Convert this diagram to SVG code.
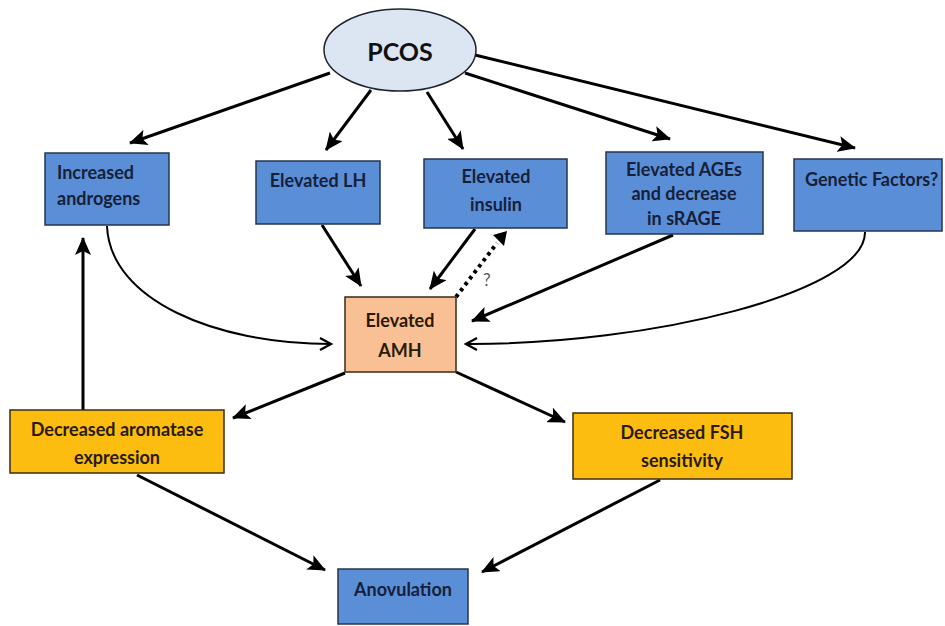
<svg xmlns="http://www.w3.org/2000/svg" width="945" height="626" viewBox="0 0 945 626">
<defs>
<marker id="ah" markerUnits="userSpaceOnUse" markerWidth="18" markerHeight="16" viewBox="0 0 18 16" refX="17" refY="8" orient="auto">
<path d="M0,0 L18,8 L0,16 L4,8 Z" fill="#000"/>
</marker>
<marker id="oh" markerUnits="userSpaceOnUse" markerWidth="16" markerHeight="16" viewBox="0 0 16 16" refX="14" refY="8" orient="auto">
<path d="M3,2 L14,8 L3,14" fill="none" stroke="#000" stroke-width="2.2"/>
</marker>
<style>
.blue{fill:#5a8fd8;stroke:#24344f;stroke-width:1.5}
.org{fill:#f9bf95;stroke:#3a2a1a;stroke-width:1.5}
.yel{fill:#fdbd10;stroke:#3a2e10;stroke-width:1.5}
.t{font-family:Lato,"Open Sans","Liberation Sans",sans-serif;font-weight:bold;font-size:18px;fill:#172038}
.tk{font-family:Lato,"Open Sans","Liberation Sans",sans-serif;font-weight:bold;font-size:18px;fill:#2a1a0a}
.c{text-anchor:middle}
.e{fill:none;stroke:#000;stroke-width:3;marker-end:url(#ah)}
.cv{fill:none;stroke:#000;stroke-width:2;marker-end:url(#oh)}
</style>
</defs>
<rect width="945" height="626" fill="#fff"/>
<g id="connectors">
<line class="e" x1="330" y1="73" x2="130" y2="143"/>
<line class="e" x1="371" y1="90" x2="326" y2="150"/>
<line class="e" x1="427" y1="92" x2="463" y2="149"/>
<line class="e" x1="465" y1="73" x2="670" y2="139"/>
<line class="e" x1="475" y1="55" x2="855" y2="148"/>
<line class="e" x1="322" y1="225" x2="361" y2="286"/>
<line class="e" x1="475" y1="229" x2="430" y2="289"/>
<line fill="none" stroke="#000" stroke-width="4" stroke-dasharray="3.5,4" x1="456" y1="297" x2="497" y2="243"/>
<path d="M493,235 L507,231 L504,246 Z" fill="#000"/>
<text x="483" y="286" font-family="Lato,'Open Sans','Liberation Sans',sans-serif" font-size="17" fill="#555">?</text>
<line class="e" x1="673" y1="235" x2="472" y2="321"/>
<path class="cv" d="M107,226 C110,300 215,344 331,344"/>
<path class="cv" d="M865,232 C866,292 650,345 466,344"/>
<line class="e" x1="345" y1="373" x2="233" y2="418"/>
<line class="e" x1="456" y1="372" x2="565" y2="422"/>
<line class="e" x1="83" y1="410" x2="83" y2="238"/>
<line class="e" x1="137" y1="475" x2="325" y2="570"/>
<line class="e" x1="660" y1="480" x2="482" y2="572"/>
</g>
<g id="pcos">
<ellipse cx="400" cy="50" rx="76" ry="41" fill="#dce6f2" stroke="#1c2430" stroke-width="1.5"/>
<text x="400" y="61" class="t c" style="font-size:25px;fill:#111">PCOS</text>
</g>
<g id="androgens">
<rect class="blue" x="45" y="153" width="124" height="72"/>
<text class="t" x="57" y="179">Increased</text>
<text class="t" x="57" y="205">androgens</text>
</g>
<g id="lh">
<rect class="blue" x="256" y="161" width="124" height="63"/>
<text class="t c" x="318" y="187">Elevated LH</text>
</g>
<g id="insulin">
<rect class="blue" x="424" y="159" width="143" height="69"/>
<text class="t c" x="496" y="183">Elevated</text>
<text class="t c" x="496" y="211">insulin</text>
</g>
<g id="ages">
<rect class="blue" x="606" y="152" width="157" height="82"/>
<text class="t c" x="684" y="176">Elevated AGEs</text>
<text class="t c" x="684" y="200">and decrease</text>
<text class="t c" x="684" y="225">in sRAGE</text>
</g>
<g id="genetic">
<rect class="blue" x="794" y="159" width="148" height="72"/>
<text class="t" x="805" y="186">Genetic Factors?</text>
</g>
<g id="amh">
<rect class="org" x="345" y="297" width="111" height="75"/>
<text class="tk c" x="400" y="327">Elevated</text>
<text class="tk c" x="400" y="357">AMH</text>
</g>
<g id="aromatase">
<rect class="yel" x="10" y="410" width="214" height="63"/>
<text class="tk c" x="117" y="436">Decreased aromatase</text>
<text class="tk c" x="117" y="464">expression</text>
</g>
<g id="fsh">
<rect class="yel" x="573" y="413" width="219" height="66"/>
<text class="tk c" x="682" y="439">Decreased FSH</text>
<text class="tk c" x="682" y="467">sensitivity</text>
</g>
<g id="anovulation">
<rect class="blue" x="338" y="569" width="130" height="55"/>
<text class="t c" x="403" y="596">Anovulation</text>
</g>
</svg>
